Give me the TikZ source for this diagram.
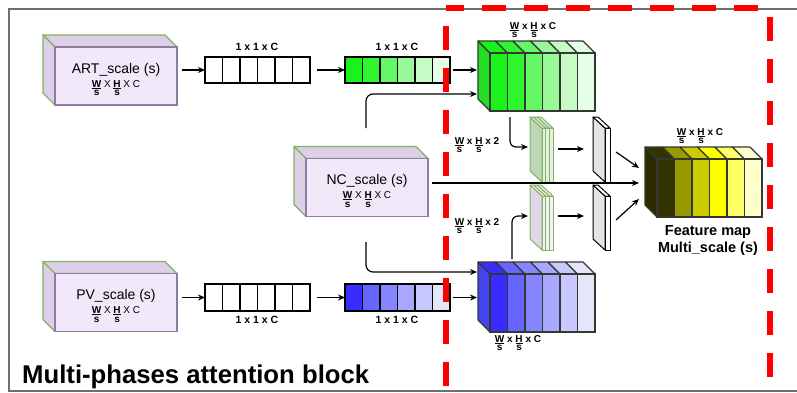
\documentclass[tikz,border=0pt]{standalone}
\usepackage{fontspec}
\setmainfont{Liberation Sans}
\usetikzlibrary{arrows.meta,calc}
\definecolor{purplefront}{HTML}{F1E9FA}
\definecolor{purpleside}{HTML}{DDCFE8}
\definecolor{purpleedge}{HTML}{8F7C9E}
\definecolor{greenedge}{HTML}{82B366}
\definecolor{edgec}{HTML}{333833}
\definecolor{redd}{HTML}{FF0000}
\definecolor{borderc}{HTML}{707070}
\definecolor{gA}{HTML}{1AF21A}\definecolor{gB}{HTML}{2EF52E}\definecolor{gC}{HTML}{66F766}
\definecolor{gD}{HTML}{99F999}\definecolor{gE}{HTML}{C6FBC6}\definecolor{gF}{HTML}{E6FDE6}
\definecolor{gL}{HTML}{22DD22}
\definecolor{bA}{HTML}{3A2CFF}\definecolor{bB}{HTML}{6666FF}\definecolor{bC}{HTML}{8585FF}
\definecolor{bD}{HTML}{A8A8FF}\definecolor{bE}{HTML}{C8C8FF}\definecolor{bF}{HTML}{E6E6FA}
\definecolor{bL}{HTML}{4444EE}
\definecolor{yA}{HTML}{333300}\definecolor{yB}{HTML}{999900}\definecolor{yC}{HTML}{CCCC00}
\definecolor{yD}{HTML}{FFFF00}\definecolor{yE}{HTML}{FFFF66}\definecolor{yF}{HTML}{FFFFCC}
\definecolor{yL}{HTML}{2B2B00}
\definecolor{slabgside}{HTML}{BFD6B4}
\definecolor{slabgfront}{HTML}{E4F0E0}
\definecolor{slabpside}{HTML}{E1D5E7}
\definecolor{slabpfront}{HTML}{F6F1F9}
\definecolor{grayside}{HTML}{E4E4E4}
\newcommand\fr[2]{\vtop{\halign{\hfil##\hfil\cr #1\cr\noalign{\kern0.8pt\hrule height 1.1pt\kern1.3pt}#2\cr}}}
% input box: name, cx, cy, title
\newcommand\inputbox[4]{%
  \filldraw[side] ({#2-61},{#3-29}) -- ++(-12,-12) -- ++(122,0) -- ({#2+61},{#3-29}) -- cycle;
  \filldraw[side] ({#2-61},{#3-29}) -- ++(-12,-12) -- ++(0,58) -- ({#2-61},{#3+29}) -- cycle;
  \node[frontbox] (#1) at (#2,#3) {};
  \node[boxtitle] at ([yshift=3pt]#1.center) {#4};
  \node[dims] at ([yshift=-11pt]#1.center) {\fr{\bfseries W}{\bfseries s} X \fr{\bfseries H}{\bfseries s} X C};
}
% block: x1, y1, leftcolor, colors, prefix
\newcommand\block[5]{%
  \filldraw[fill=#3,draw=edgec,line width=1.1pt,line join=round] (#1,#2) -- ++(-12,-12) -- ++(0,58) -- ++(12,12) -- cycle;
  \foreach \c [count=\i] in {#4}{
    \filldraw[fill=\c,draw=edgec,line width=1.1pt,line join=round] ({#1+\i*17.5-17.5},#2) -- ++(-12,-12) -- ++(17.5,0) -- ++(12,12) -- cycle;
    \node[slice,fill=\c,minimum height=58pt] (#5\i) at ({#1+\i*17.5-17.5},#2) {};
  }
}
% plate: x1, y1, w, h, n, sidefill, frontfill, stroke
\newcommand\plate[8]{%
  \filldraw[fill=#6,draw=#8,line width=1pt,line join=round] (#1,#2) -- ++(-12,-11) -- ++(0,#4) -- ++(12,11) -- cycle;
  \foreach \k in {1,...,#5}{
    \filldraw[fill=#7,draw=#8,line width=1pt,line join=round] ({#1+(\k-1)*#3/#5},#2) -- ++(-12,-11) -- ++({#3/#5},0) -- ++(12,11) -- cycle;
    \filldraw[fill=#7,draw=#8,line width=1pt] ({#1+(\k-1)*#3/#5},#2) rectangle ++({#3/#5},#4);
  }
}
\begin{document}
\begin{tikzpicture}[x=1pt,y=-1pt,
  arr/.style={line width=1.2pt,-{Stealth[length=7pt,width=6pt]}},
  cell/.style={draw=black,line width=1.3pt,minimum width=17.5pt,minimum height=26pt,inner sep=0pt,outer sep=0pt},
  slice/.style={draw=edgec,line width=1.1pt,minimum width=17.5pt,inner sep=0pt,outer sep=0pt,anchor=north west},
  frontbox/.style={draw=purpleedge,fill=purplefront,line width=1.3pt,minimum width=122pt,minimum height=58pt,inner sep=0pt,outer sep=0pt},
  side/.style={draw=greenedge,fill=purpleside,line width=1.3pt,line join=round},
  boxtitle/.style={font=\fontsize{14}{16}\selectfont,anchor=base,inner sep=0pt},
  dims/.style={font=\fontsize{10}{12}\selectfont,anchor=base,inner sep=0pt},
  dimsb/.style={font=\fontsize{10}{12}\selectfont\bfseries,anchor=base,inner sep=0pt},
  lab/.style={font=\fontsize{10.5}{12}\selectfont\bfseries,anchor=base,inner sep=0pt},
  fmlab/.style={font=\fontsize{14.5}{17}\selectfont\bfseries,anchor=base,inner sep=0pt},
]
\useasboundingbox (0,0) rectangle (797,392);
\fill[white] (0,0) rectangle (797,392);
% outer border
\draw[borderc,line width=1.5pt] (797,9) -- (9,9) -- (9,391) -- (797,391);

% input boxes
\inputbox{art}{116}{76}{ART\_scale (s)}
\inputbox{nc}{367}{187.5}{NC\_scale (s)}
\inputbox{pv}{116}{302.5}{PV\_scale (s)}

% vectors
\foreach \i in {1,...,6}{
  \node[cell] (a\i) at ({205+8.75+(\i-1)*17.5},70) {};
  \node[cell,minimum height=27pt] (p\i) at ({205+8.75+(\i-1)*17.5},297.5) {};
}
\foreach \c [count=\i] in {gA,gB,gC,gD,gE,gF}{
  \node[cell,fill=\c] (g\i) at ({345+8.75+(\i-1)*17.5},70) {};
}
\foreach \c [count=\i] in {bA,bB,bC,bD,bE,bF}{
  \node[cell,fill=\c,minimum height=27pt] (b\i) at ({345+8.75+(\i-1)*17.5},297.5) {};
}
\node[lab] at (257,50) {1 x 1 x C};
\node[lab] at (397,50) {1 x 1 x C};
\node[lab] at (257,323) {1 x 1 x C};
\node[lab] at (397,323) {1 x 1 x C};

% blocks
\block{490}{53}{gL}{gA,gB,gC,gD,gE,gF}{gb}
\block{490}{274}{bL}{bA,bB,bC,bD,bE,bF}{bb}
\block{657}{159}{yL}{yA,yB,yC,yD,yE,yF}{fm}
\node[dimsb] at (533,29) {\fr{W}{s} x \fr{H}{s} x C};
\node[dimsb] at (518,342) {\fr{W}{s} x \fr{H}{s} x C};
\node[dimsb] at (700,135) {\fr{W}{s} x \fr{H}{s} x C};
\node[fmlab] at (708,235) {Feature map};
\node[fmlab] at (708,252) {Multi\_scale (s)};

% plates
\plate{542}{128}{11}{54}{3}{slabgside}{slabgfront}{greenedge}
\plate{542}{196}{11}{54}{3}{slabpside}{slabpfront}{greenedge}
\plate{605}{128}{5}{54}{1}{grayside}{white}{black}
\plate{605}{196}{5}{54}{1}{grayside}{white}{black}
\node[dimsb] at (477,144) {\fr{W}{s} x \fr{H}{s} x 2};
\node[dimsb] at (477,225) {\fr{W}{s} x \fr{H}{s} x 2};

% connector end points
\coordinate (artOut) at (182,70);
\coordinate (pvOut) at (182,297.5);
\coordinate (gbIn) at (477,70);
\coordinate (bbIn) at (477,297.5);
\coordinate (ncU) at (366,128);
\coordinate (gbIn2) at (477,94);
\coordinate (ncD) at (366,242);
\coordinate (bbIn2) at (477,272);
\coordinate (ncOut) at (432,183);
\coordinate (fmIn) at (639,183);
\coordinate (gbOut) at (510,117);
\coordinate (gpIn) at (528,147);
\coordinate (bbOut) at (512,259);
\coordinate (ppIn) at (528,216);
\coordinate (gpOut) at (558,149);
\coordinate (gyIn) at (584,149);
\coordinate (ppOut) at (558,216);
\coordinate (gy2In) at (584,216);
\coordinate (gyOut) at (616,152);
\coordinate (fmIn1) at (639,168);
\coordinate (gy2Out) at (616,220);
\coordinate (fmIn2) at (639,199);

\draw[arr] (artOut) -- (a1.west);
\draw[arr] (pvOut) -- (p1.west);
\draw[arr] ([xshift=7pt]a6.east) -- (g1.west);
\draw[arr] ([xshift=7pt]p6.east) -- (b1.west);
\draw[arr] ([xshift=3pt]g6.east) -- (gbIn);
\draw[arr] ([xshift=3pt]b6.east) -- (bbIn);
\draw[arr,rounded corners=7pt] (ncU) |- (gbIn2);
\draw[arr,rounded corners=7pt] (ncD) |- (bbIn2);
\draw[arr] (ncOut) -- (fmIn);
\draw[arr,rounded corners=6pt] (gbOut) |- (gpIn);
\draw[arr,rounded corners=6pt] (bbOut) |- (ppIn);
\draw[arr] (gpOut) -- (gyIn);
\draw[arr] (ppOut) -- (gy2In);
\draw[arr] (gyOut) -- (fmIn1);
\draw[arr] (gy2Out) -- (fmIn2);

% title
\node[font=\fontsize{25.7}{30}\selectfont\bfseries,anchor=base west,inner sep=0pt] (title) at (22,383) {Multi-phases attention block};

% red dashed region
\draw[redd,line width=6pt,dash pattern=on 24pt off 18pt,dash phase=6pt] (446,8) -- (770,8);
\draw[redd,line width=6pt,dash pattern=on 24pt off 18pt,dash phase=24pt] (446,8) -- (446,392);
\draw[redd,line width=6pt,dash pattern=on 24pt off 18pt,dash phase=33pt] (770,8) -- (770,392);
\end{tikzpicture}
\end{document}
